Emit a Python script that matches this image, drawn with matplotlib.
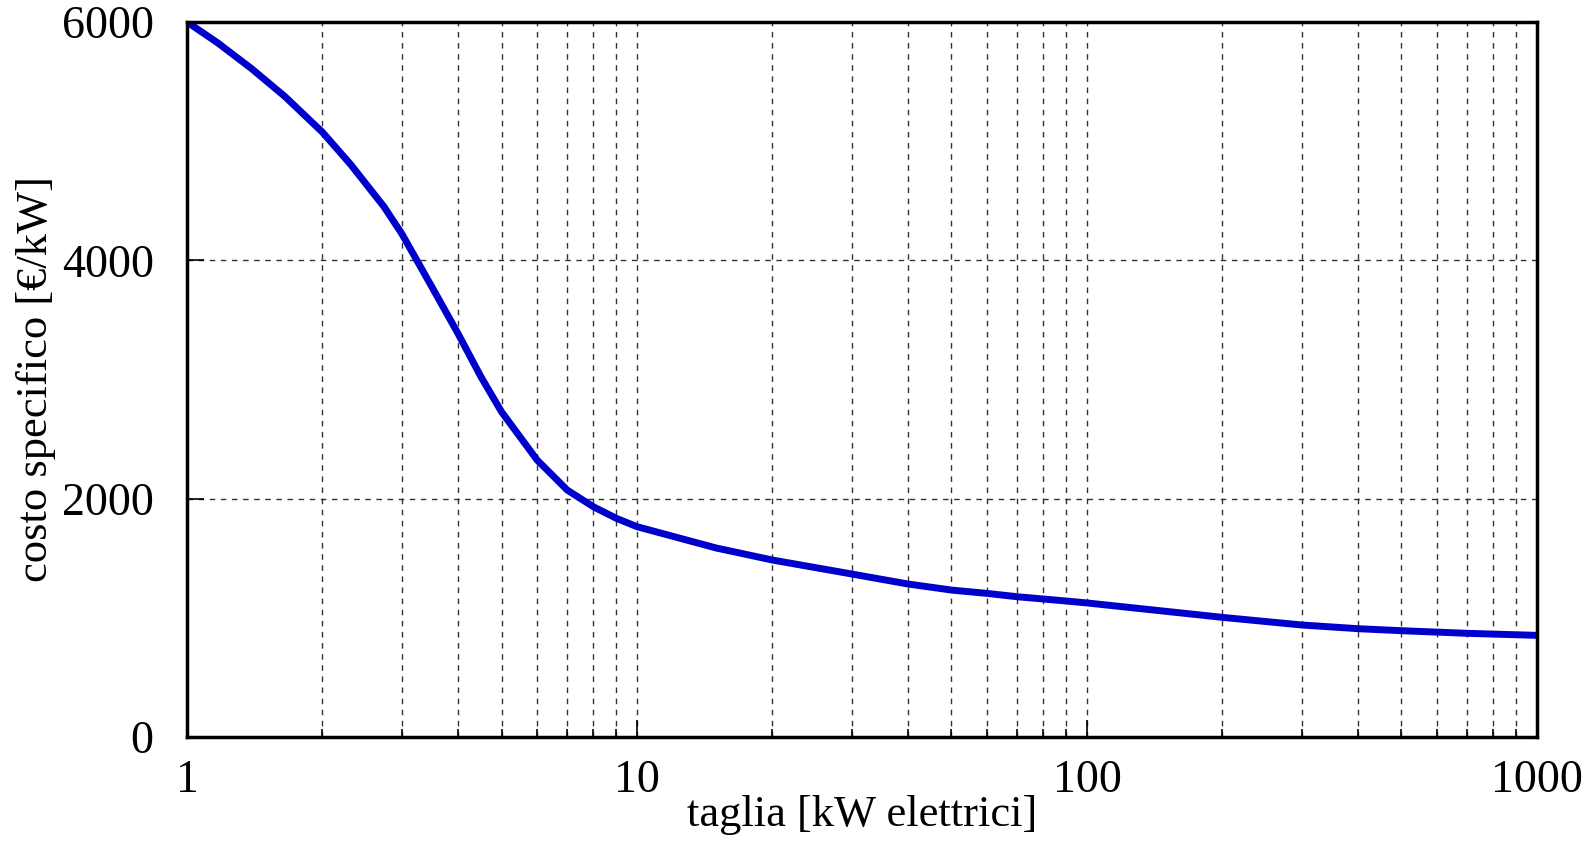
import matplotlib
matplotlib.use("Agg")
import matplotlib.pyplot as plt
from matplotlib.ticker import FixedLocator, LogLocator, NullFormatter

# taglia [kW elettrici] vs costo specifico [€/kW]
taglia = [1, 1.17, 1.39, 1.65, 2, 2.31, 2.74, 3, 3.5, 4, 4.5, 5,
          6, 7, 8, 9, 10,
          15, 20, 30, 40, 50, 60, 70, 80, 90, 100,
          200, 300, 400, 500, 700, 1000]
costo = [6000, 5825, 5610, 5375, 5075, 4805, 4450, 4225, 3778, 3387, 3023, 2729,
         2324, 2072, 1932, 1835, 1765,
         1586, 1485, 1368, 1284, 1233, 1205, 1177, 1158, 1141, 1125,
         1004, 940, 909, 892, 870, 853]

x_ticks = [1, 10, 100, 1000]
y_ticks = [0, 2000, 4000, 6000]

plt.rcParams["font.family"] = ["Liberation Serif", "DejaVu Serif"]

fig = plt.figure(figsize=(15.94, 8.42), dpi=100)
ax = fig.add_axes([0.1173, 0.1247, 0.8469, 0.8492])

ax.plot(taglia, costo, color="#0000cc", linewidth=5, solid_joinstyle="round")

ax.set_xscale("log")
ax.set_xlim(1, 1000)
ax.set_ylim(0, 6000)
ax.xaxis.set_major_locator(FixedLocator(x_ticks))
ax.xaxis.set_major_formatter(plt.FuncFormatter(lambda v, p: f"{v:g}"))
ax.xaxis.set_minor_locator(LogLocator(base=10, subs=range(2, 10)))
ax.xaxis.set_minor_formatter(NullFormatter())
ax.yaxis.set_major_locator(FixedLocator(y_ticks))

ax.grid(True, which="both", axis="x", linestyle=(0, (4, 4)), color="#333333", linewidth=1)
ax.grid(True, which="major", axis="y", linestyle=(0, (4, 4)), color="#333333", linewidth=1)

ax.tick_params(which="major", direction="in", length=12, width=1.2, labelsize=33)
ax.tick_params(which="minor", direction="in", length=6, width=1.2)
ax.tick_params(axis="y", pad=24)
ax.tick_params(axis="x", pad=16)

for s in ax.spines.values():
    s.set_linewidth(2.5)

ax.set_xlabel("taglia [kW elettrici]", fontsize=32, labelpad=-5)
ax.set_ylabel("costo specifico [€/kW]", fontsize=32, labelpad=4)

fig.savefig("out.png", dpi=100)
